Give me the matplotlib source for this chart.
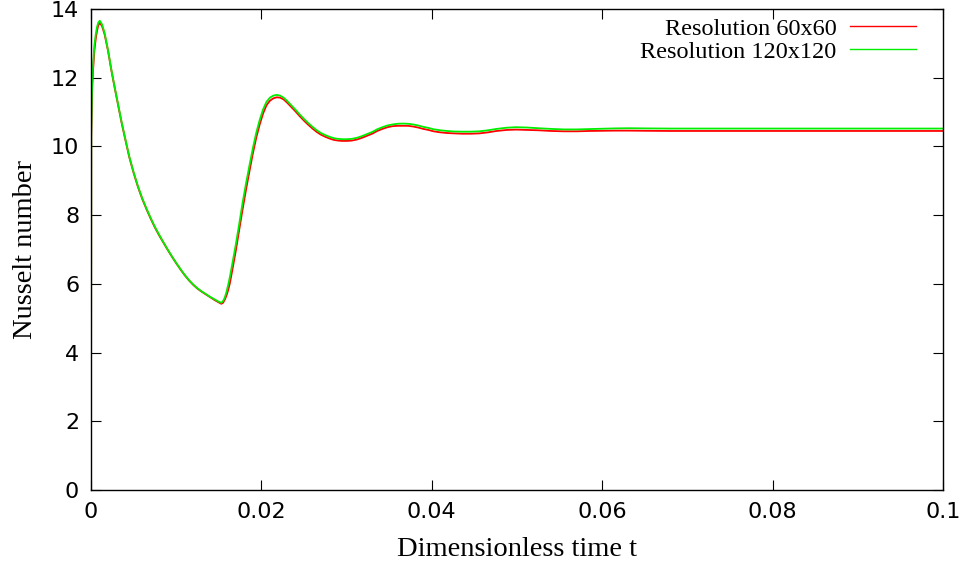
import matplotlib
matplotlib.use("Agg")
import matplotlib.pyplot as plt

# Nusselt number vs dimensionless time
# both resolutions are sampled at the same times
t_vals = [0.0, 0.00003, 0.00014, 0.00025, 0.0004, 0.00055, 0.0007, 0.00085, 0.00103,
          0.0013, 0.0016, 0.0020, 0.0024, 0.0028, 0.0032, 0.0036, 0.0040, 0.0045,
          0.0050, 0.0055, 0.0060, 0.0065, 0.0070, 0.0075, 0.0080, 0.0085, 0.0090,
          0.0095, 0.0100, 0.0105, 0.0110, 0.0115, 0.0120, 0.0125, 0.0130, 0.0135,
          0.0140, 0.0145, 0.0150, 0.0153, 0.0155, 0.0157, 0.0159, 0.0161, 0.0163,
          0.0166, 0.0170, 0.0174, 0.0178, 0.0182, 0.0186, 0.0190, 0.0194, 0.0198,
          0.0202, 0.0206, 0.0210, 0.0214, 0.0218, 0.0222, 0.0226, 0.0230, 0.0235,
          0.0240, 0.0245, 0.0250, 0.0255, 0.0260, 0.0265, 0.0270, 0.0275, 0.0280,
          0.0285, 0.0290, 0.0295, 0.0300, 0.0306, 0.0312, 0.0318, 0.0324, 0.0330,
          0.0336, 0.0342, 0.0348, 0.0354, 0.0360, 0.0366, 0.0372, 0.0378, 0.0384,
          0.0390, 0.0396, 0.0402, 0.0410, 0.0418, 0.0426, 0.0436, 0.0446, 0.0456,
          0.0466, 0.0476, 0.0488, 0.0499, 0.0512, 0.0525, 0.0540, 0.0555, 0.0570,
          0.0585, 0.0600, 0.0615, 0.0632, 0.0650, 0.0680, 0.0720, 0.0800, 0.0900,
          0.1000]

nu_60 = [0.0, 10.3, 11.7, 12.25, 12.8, 13.12, 13.36, 13.52, 13.6,
         13.5, 13.26, 12.78, 12.2, 11.68, 11.18, 10.68, 10.23, 9.68,
         9.23, 8.83, 8.48, 8.18, 7.9, 7.64, 7.41, 7.2, 6.99,
         6.79, 6.6, 6.42, 6.25, 6.1, 5.97, 5.86, 5.77, 5.69,
         5.61, 5.53, 5.46, 5.42, 5.45, 5.54, 5.66, 5.82, 6.02,
         6.42, 6.97, 7.58, 8.18, 8.75, 9.28, 9.8, 10.26, 10.64,
         10.96, 11.2, 11.33, 11.4, 11.43, 11.42, 11.37, 11.28, 11.15,
         11.02, 10.88, 10.75, 10.63, 10.52, 10.42, 10.34, 10.28, 10.23,
         10.19, 10.17, 10.16, 10.16, 10.17, 10.2, 10.25, 10.31, 10.37,
         10.45, 10.51, 10.56, 10.59, 10.6, 10.6, 10.6, 10.58, 10.55,
         10.51, 10.48, 10.44, 10.41, 10.39, 10.38, 10.37, 10.37, 10.38,
         10.41, 10.45, 10.48, 10.49, 10.48, 10.47, 10.45, 10.44, 10.44,
         10.45, 10.455, 10.46, 10.46, 10.455, 10.45, 10.45, 10.45, 10.45,
         10.45]

nu_120 = [0.0, 10.4, 11.88, 12.4, 12.95, 13.25, 13.47, 13.6, 13.66,
          13.55, 13.3, 12.8, 12.22, 11.7, 11.2, 10.7, 10.25, 9.7,
          9.25, 8.85, 8.5, 8.2, 7.92, 7.66, 7.43, 7.21, 7.0,
          6.8, 6.61, 6.43, 6.26, 6.11, 5.98, 5.87, 5.78, 5.7,
          5.62, 5.55, 5.48, 5.45, 5.5, 5.6, 5.76, 5.97, 6.2,
          6.6, 7.15, 7.75, 8.37, 8.93, 9.45, 9.95, 10.4, 10.77,
          11.08, 11.3, 11.42, 11.48, 11.5, 11.48, 11.42, 11.33, 11.2,
          11.07, 10.93, 10.8, 10.68, 10.57, 10.47, 10.39, 10.33, 10.28,
          10.24, 10.22, 10.21, 10.21, 10.22, 10.25, 10.3, 10.36, 10.42,
          10.5, 10.56, 10.61, 10.64, 10.66, 10.665, 10.66, 10.64, 10.61,
          10.57, 10.54, 10.5, 10.47, 10.45, 10.435, 10.43, 10.43, 10.44,
          10.47, 10.51, 10.545, 10.56, 10.55, 10.53, 10.51, 10.495, 10.495,
          10.505, 10.515, 10.525, 10.53, 10.525, 10.52, 10.52, 10.52, 10.52,
          10.52]

series_labels = ["Resolution 60x60", "Resolution 120x120"]
series_colors = ["#ff0000", "#00ee00"]

x_ticks = [0, 0.02, 0.04, 0.06, 0.08, 0.1]
x_ticklabels = ["0", "0.02", "0.04", "0.06", "0.08", "0.1"]
y_ticks = [0, 2, 4, 6, 8, 10, 12, 14]

fig = plt.figure(figsize=(9.72, 5.75), dpi=100)
ax = fig.add_axes([91 / 972, 85 / 575, 852 / 972, 481 / 575])

ax.plot(t_vals, nu_60, '-', color=series_colors[0], lw=1.3, label=series_labels[0])
ax.plot(t_vals, nu_120, '-', color=series_colors[1], lw=1.3, label=series_labels[1])

ax.set_xlim(0, 0.1)
ax.set_ylim(0, 14)
ax.set_xticks(x_ticks)
ax.set_xticklabels(x_ticklabels)
ax.set_yticks(y_ticks)
ax.tick_params(direction='in', length=7.5, width=0.8, top=True, right=True,
               labelsize=16, pad=8.5, colors='black')
for sp in ax.spines.values():
    sp.set_linewidth(1.0)

serif = ['Liberation Serif', 'DejaVu Serif']
ax.set_xlabel("Dimensionless time t", family=serif, fontsize=20.5)
ax.set_ylabel("Nusselt number", family=serif, fontsize=20.5)
ax.xaxis.set_label_coords(0.5, -0.098)
ax.yaxis.set_label_coords(-0.062, 0.5)

# gnuplot-style key: text right-aligned, sample line after it
leg = ax.legend(loc='upper right', bbox_to_anchor=(0.968, 0.982), markerfirst=False,
                frameon=False, prop={'family': serif, 'size': 17.5},
                handlelength=2.7, handletextpad=0.55, labelspacing=0.05,
                borderaxespad=0, borderpad=0)
for ln in leg.get_lines():
    ln.set_linewidth(1.0)

fig.savefig("out.png", dpi=100)
